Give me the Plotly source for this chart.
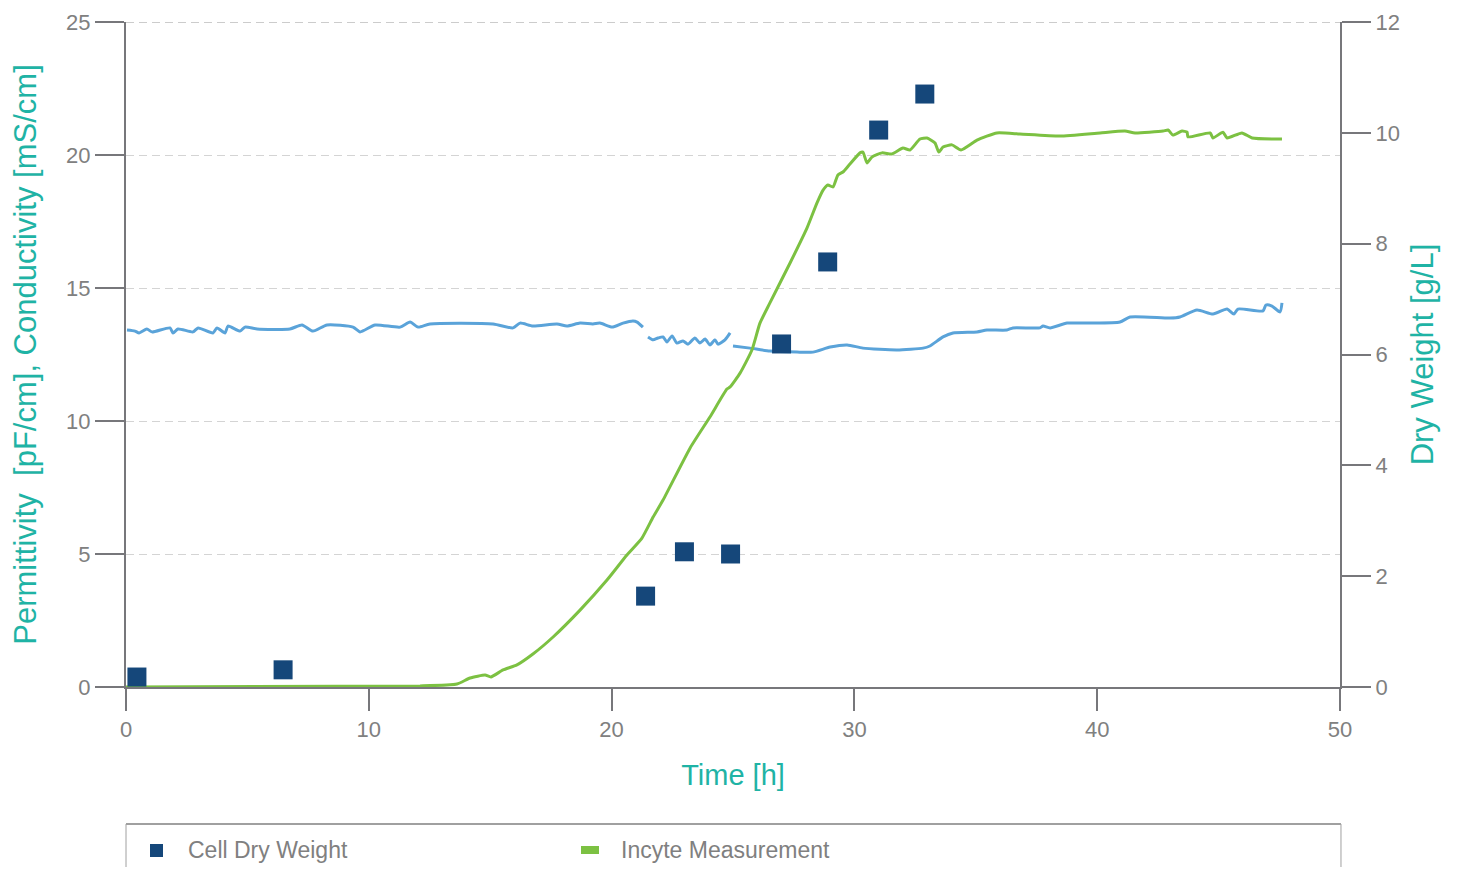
import plotly.graph_objects as go

# ---- data ----
dw_time = [0.45, 6.47, 21.4, 23.0, 24.9, 27.0, 28.9, 31.0, 32.9]
dw_value = [0.18, 0.31, 1.64, 2.44, 2.40, 6.19, 7.67, 10.05, 10.7]

incyte_time = [0, 12.11, 13.63, 14.17, 14.79, 15.03, 15.53, 16.10, 16.76, 17.59, 18.70, 19.81,
               20.63, 21.25, 21.71, 22.12, 23.23, 24.05, 24.75, 24.88, 25.29, 25.78, 26.11,
               26.52, 27.35, 28.05, 28.46, 28.71, 28.91, 29.12, 29.32, 29.53, 29.78, 30.23,
               30.35, 30.52, 30.72, 31.14, 31.55, 32.00, 32.29, 32.70, 32.99, 33.32, 33.48,
               33.65, 34.02, 34.39, 35.05, 35.87, 36.82, 38.47, 40.12, 41.14, 41.56, 42.71,
               42.92, 43.12, 43.49, 43.70, 43.74, 44.65, 44.77, 45.18, 45.35, 45.96, 46.38, 47.61]
incyte_value = [0, 0.04, 0.11, 0.34, 0.45, 0.38, 0.64, 0.83, 1.24, 1.88, 2.89, 4.02,
                4.96, 5.60, 6.39, 7.03, 8.98, 10.15, 11.20, 11.28, 11.80, 12.67, 13.68,
                14.44, 15.94, 17.26, 18.20, 18.68, 18.87, 18.80, 19.25, 19.36, 19.62, 20.08,
                20.11, 19.70, 19.92, 20.08, 20.04, 20.26, 20.19, 20.60, 20.64, 20.45, 20.11,
                20.30, 20.38, 20.19, 20.56, 20.83, 20.79, 20.71, 20.83, 20.90, 20.83, 20.90,
                20.94, 20.75, 20.90, 20.86, 20.68, 20.83, 20.64, 20.86, 20.64, 20.83, 20.64, 20.60]

cond_time = [0.04, 0.37, 0.54, 0.86, 1.07, 1.81, 1.94, 2.14, 2.76, 2.97, 3.58, 3.75, 4.08, 4.20,
             4.70, 4.90, 5.40, 6.75, 7.25, 7.70, 8.28, 9.35, 9.64, 10.26, 11.29, 11.70, 12.03,
             12.52, 15.12, 15.94, 16.23, 16.76, 17.75, 18.16, 18.70, 19.23, 19.52, 20.02, 20.47,
             20.88, 21.05, 21.29,
             None,
             21.50, 21.71, 21.91, 22.12, 22.28, 22.49, 22.69, 22.94, 23.15, 23.43, 23.64, 23.85,
             24.05, 24.26, 24.38, 24.67, 24.88,
             None,
             25.00, 25.70, 26.52, 27.64, 28.29, 29.00, 29.70, 30.35, 31.75, 32.83, 33.11, 33.65,
             34.06, 35.05, 35.46, 36.28, 36.53, 37.64, 37.77, 38.06, 38.76, 39.70, 40.94, 41.35,
             43.00, 43.41, 44.11, 44.77, 45.35, 45.63, 45.80, 46.83, 46.95, 47.20, 47.53, 47.61]
cond_value = [13.42, 13.38, 13.31, 13.46, 13.35, 13.50, 13.31, 13.46, 13.35, 13.50, 13.31, 13.50,
              13.31, 13.57, 13.38, 13.53, 13.46, 13.46, 13.61, 13.38, 13.61, 13.53, 13.35, 13.61,
              13.53, 13.72, 13.53, 13.65, 13.65, 13.50, 13.68, 13.57, 13.65, 13.57, 13.68, 13.65,
              13.68, 13.53, 13.68, 13.76, 13.72, 13.53,
              None,
              13.16, 13.05, 13.12, 13.16, 12.97, 13.20, 12.93, 13.01, 12.89, 13.12, 12.93, 13.08,
              12.86, 13.05, 12.89, 13.05, 13.31,
              None,
              12.82, 12.74, 12.63, 12.59, 12.59, 12.78, 12.86, 12.74, 12.67, 12.74, 12.82, 13.16,
              13.31, 13.35, 13.42, 13.42, 13.50, 13.50, 13.57, 13.50, 13.68, 13.68, 13.72, 13.91,
              13.87, 13.91, 14.17, 14.02, 14.21, 14.02, 14.21, 14.14, 14.36, 14.32, 14.10, 14.44]

x_ticks = [0, 10, 20, 30, 40, 50]
y_left_ticks = [0, 5, 10, 15, 20, 25]
y_right_ticks = [0, 2, 4, 6, 8, 10, 12]

legend_labels = ["Cell Dry Weight", "Incyte Measurement"]

# ---- style ----
FONT = "Liberation Sans, Arial, sans-serif"
AXIS = "#77777b"
TICKTXT = "#808080"
TEAL = "#1fb3a5"
GREEN = "#7cc142"
BLUE = "#5aa3d9"
NAVY = "#15477a"

fig = go.Figure()

fig.add_trace(go.Scatter(x=cond_time, y=cond_value, mode="lines", yaxis="y",
                         line=dict(color=BLUE, width=3, shape="spline", smoothing=0.6),
                         connectgaps=False, showlegend=False, hoverinfo="skip"))
fig.add_trace(go.Scatter(x=incyte_time, y=incyte_value, mode="lines", yaxis="y",
                         line=dict(color=GREEN, width=3, shape="spline", smoothing=0.5),
                         showlegend=False, name=legend_labels[1]))
fig.add_trace(go.Scatter(x=dw_time, y=dw_value, mode="markers", yaxis="y2",
                         marker=dict(symbol="square", size=19, color=NAVY, line=dict(width=0)),
                         showlegend=False, name=legend_labels[0]))

fig.update_layout(
    width=1451, height=859,
    margin=dict(l=118, r=119, t=14, b=180),
    paper_bgcolor="white", plot_bgcolor="white",
    font=dict(family=FONT, color=TICKTXT),
    showlegend=False,
    xaxis=dict(range=[0, 50], tickvals=x_ticks, showgrid=False, zeroline=False,
               automargin=False,
               showline=True, linecolor=AXIS, linewidth=2,
               ticks="outside", ticklen=22, tickwidth=2, tickcolor=AXIS,
               tickfont=dict(size=22, color=TICKTXT),
               title=dict(text="Time [h]", font=dict(size=29, color=TEAL), standoff=23)),
    yaxis=dict(range=[0, 25], tickvals=y_left_ticks, zeroline=False,
               automargin=False,
               showgrid=True, gridcolor="#d4d4d4", gridwidth=1, griddash="8px,5px",
               showline=True, linecolor=AXIS, linewidth=2,
               ticks="outside", ticklen=29, tickwidth=2, tickcolor=AXIS,
               tickfont=dict(size=22, color=TICKTXT),
               title=dict(text="Permittivity\u00a0 [pF/cm], Conductivity [mS/cm]",
                          font=dict(size=31, color=TEAL), standoff=20)),
    yaxis2=dict(range=[0, 12], tickvals=y_right_ticks, overlaying="y", side="right",
                automargin=False,
                showgrid=False, zeroline=False,
                showline=True, linecolor=AXIS, linewidth=2,
                ticks="outside", ticklen=29, tickwidth=2, tickcolor=AXIS,
                tickfont=dict(size=22, color=TICKTXT),
                title=dict(text="Dry Weight [g/L]", font=dict(size=31, color=TEAL), standoff=12)),
)

# darker dashed top line at 25
fig.add_shape(type="line", xref="paper", yref="y", x0=0, x1=1, y0=25, y1=25,
              line=dict(color="#9a9a9a", width=1, dash="8px,5px"), layer="below")

# custom legend box (open at the bottom, cut by page edge)
fig.add_shape(type="line", xref="paper", yref="paper", x0=0, x1=1.0008, y0=-0.206, y1=-0.206,
              line=dict(color="#a0a0a0", width=2))
fig.add_shape(type="line", xref="paper", yref="paper", x0=0, x1=0, y0=-0.206, y1=-0.4,
              line=dict(color="#a0a0a0", width=1))
fig.add_shape(type="line", xref="paper", yref="paper", x0=1.0008, x1=1.0008, y0=-0.206, y1=-0.4,
              line=dict(color="#a0a0a0", width=1))
# legend symbols
fig.add_shape(type="rect", xref="paper", yref="paper",
              x0=(150 - 126) / 1214, x1=(163 - 126) / 1214,
              y0=(687 - 857) / 665, y1=(687 - 844) / 665,
              fillcolor=NAVY, line=dict(width=0))
fig.add_shape(type="rect", xref="paper", yref="paper",
              x0=(581 - 126) / 1214, x1=(599 - 126) / 1214,
              y0=(687 - 854) / 665, y1=(687 - 846) / 665,
              fillcolor=GREEN, line=dict(width=0))
fig.add_annotation(xref="paper", yref="paper", x=(186 - 126) / 1214, y=(687 - 850) / 665,
                   text=legend_labels[0], showarrow=False, xanchor="left", yanchor="middle",
                   font=dict(size=23, color=TICKTXT, family=FONT))
fig.add_annotation(xref="paper", yref="paper", x=(619 - 126) / 1214, y=(687 - 850) / 665,
                   text=legend_labels[1], showarrow=False, xanchor="left", yanchor="middle",
                   font=dict(size=23, color=TICKTXT, family=FONT))

fig.write_html("out.html")
